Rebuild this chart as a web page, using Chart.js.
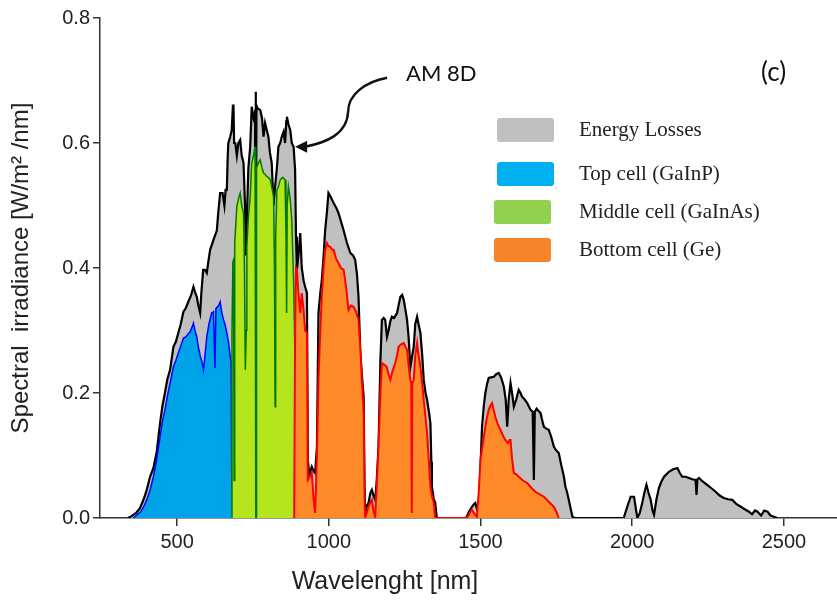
<!DOCTYPE html>
<html><head><meta charset="utf-8">
<script src="https://cdn.jsdelivr.net/npm/chart.js@4.4.1/dist/chart.umd.min.js"></script>
<style>
html,body{margin:0;padding:0;background:#fff;}
#wrap{position:relative;width:837px;height:603px;overflow:hidden;}
canvas{position:absolute;left:0;top:0;}
.lg-box{position:absolute;width:57px;height:24px;border-radius:3px;}
.lg-text{position:absolute;left:579px;font-family:"Liberation Serif","Times New Roman",serif;font-size:21px;color:#222;white-space:nowrap;line-height:24px;}
.note{position:absolute;font-family:Lato,"Open Sans",sans-serif;color:#111;white-space:nowrap;line-height:1;}
#xtitle{position:absolute;left:235px;width:300px;top:565px;text-align:center;font-family:"Liberation Sans",Arial,sans-serif;font-size:25px;line-height:30px;color:#222;white-space:nowrap;}
</style></head>
<body><div id="wrap"><canvas id="c" width="837" height="603"></canvas>
<div id="legend"></div>
<div class="note" style="left:406px;top:62px;font-size:22px">AM 8D</div>
<div class="note" style="left:761px;top:58px;font-size:26px">(c)</div>
<div id="xtitle"></div>
</div>
<script>
// ---- data (wavelength nm, irradiance W/m2/nm) ----
const am8dSpectrum = [[338,0],[350,0.003],[365,0.008],[378,0.016],[390,0.03],[400,0.045],[411,0.066],[422,0.08],[433,0.106],[444,0.152],[452,0.18],[460,0.2],[468,0.222],[477,0.237],[488,0.274],[496,0.282],[504,0.296],[512,0.31],[521,0.33],[529,0.336],[537,0.346],[546,0.356],[554,0.37],[560,0.36],[565,0.354],[570,0.34],[576,0.328],[580,0.36],[586,0.397],[592,0.397],[598,0.392],[603,0.41],[609,0.429],[620,0.445],[631,0.46],[636,0.49],[642,0.52],[650,0.52],[656,0.5],[660,0.525],[664,0.525],[667,0.58],[669,0.6],[675,0.61],[680,0.62],[684,0.66],[686,0.66],[688,0.6],[692,0.6],[697,0.58],[702,0.6],[708,0.605],[713,0.58],[719,0.568],[724,0.5],[727,0.42],[730,0.48],[735,0.56],[741,0.594],[746,0.658],[752,0.64],[757,0.65],[759,0.682],[760,0.17],[761.5,0.66],[766,0.655],[774,0.653],[780,0.64],[785,0.61],[790,0.632],[796,0.62],[801,0.61],[806,0.585],[812,0.568],[818,0.5],[823,0.53],[829,0.56],[834,0.594],[840,0.6],[845,0.61],[851,0.618],[856,0.6],[860,0.635],[862,0.642],[867,0.63],[873,0.621],[878,0.6],[884,0.594],[889,0.557],[892,0.45],[895,0.397],[900,0.42],[906,0.456],[911,0.4],[917,0.38],[922,0.37],[928,0.36],[931,0.093],[936,0.07],[944,0.082],[950,0.075],[955,0.072],[961,0.114],[966,0.328],[972,0.36],[977,0.38],[983,0.42],[988,0.46],[994,0.49],[999,0.52],[1005,0.515],[1010,0.51],[1016,0.504],[1024,0.497],[1032,0.488],[1040,0.475],[1049,0.46],[1060,0.44],[1071,0.424],[1080,0.42],[1087,0.413],[1093,0.39],[1098,0.354],[1104,0.264],[1109,0.23],[1115,0.194],[1118,0.05],[1120,0.008],[1126,0.02],[1131,0.024],[1137,0.04],[1142,0.045],[1148,0.035],[1153,0.029],[1158,0.06],[1164,0.114],[1170,0.25],[1175,0.317],[1181,0.32],[1186,0.317],[1192,0.29],[1197,0.3],[1203,0.315],[1208,0.322],[1215,0.32],[1225,0.328],[1230,0.34],[1236,0.354],[1242,0.357],[1247,0.349],[1252,0.335],[1258,0.317],[1263,0.29],[1269,0.242],[1275,0.26],[1280,0.274],[1285,0.31],[1291,0.322],[1296,0.31],[1302,0.296],[1308,0.26],[1313,0.221],[1319,0.2],[1324,0.189],[1330,0.17],[1335,0.152],[1338,0.09],[1340,0.05],[1346,0.03],[1351,0.024],[1356,0],[1450,0],[1455,0.002],[1462,0.01],[1472,0.018],[1478,0.022],[1483,0.024],[1488,0.015],[1494,0.008],[1500,0.08],[1505,0.146],[1511,0.18],[1516,0.2],[1522,0.215],[1527,0.224],[1535,0.225],[1544,0.226],[1552,0.23],[1560,0.232],[1568,0.225],[1577,0.21],[1583,0.19],[1588,0.146],[1593,0.19],[1599,0.216],[1604,0.2],[1610,0.178],[1618,0.19],[1626,0.205],[1632,0.2],[1637,0.194],[1645,0.19],[1654,0.184],[1660,0.178],[1665,0.173],[1672,0.17],[1676,0.061],[1679,0.17],[1685,0.175],[1690,0.172],[1698,0.168],[1704,0.155],[1709,0.146],[1717,0.143],[1725,0.141],[1733,0.13],[1742,0.114],[1750,0.108],[1758,0.104],[1766,0.085],[1775,0.066],[1780,0.05],[1786,0.04],[1795,0.02],[1803,0.002],[1810,0],[1972,0],[1985,0.02],[1995,0.034],[2006,0.034],[2012,0.015],[2017,0],[2025,0.008],[2033,0.024],[2040,0.04],[2047,0.053],[2054,0.04],[2061,0.029],[2067,0.012],[2072,0.005],[2080,0.03],[2088,0.048],[2096,0.058],[2105,0.066],[2113,0.07],[2121,0.074],[2135,0.078],[2149,0.08],[2157,0.072],[2165,0.066],[2176,0.066],[2187,0.064],[2198,0.062],[2209,0.061],[2212,0.037],[2215,0.062],[2220,0.064],[2233,0.058],[2247,0.053],[2260,0.048],[2275,0.042],[2288,0.036],[2302,0.032],[2316,0.03],[2330,0.029],[2344,0.022],[2358,0.018],[2371,0.014],[2385,0.01],[2395,0.006],[2405,0.012],[2413,0.01],[2425,0.004],[2435,0.012],[2446,0.01],[2456,0.004],[2467,0.002],[2478,0]];

const topCellGaInP = [[355,0],[361,0.002],[370,0.006],[380,0.01],[390,0.018],[400,0.029],[411,0.045],[422,0.066],[433,0.095],[444,0.13],[452,0.155],[460,0.173],[468,0.195],[477,0.216],[488,0.242],[496,0.252],[504,0.264],[512,0.275],[521,0.288],[530,0.29],[537,0.295],[543,0.298],[549,0.305],[554,0.312],[559,0.3],[565,0.29],[570,0.274],[576,0.26],[582,0.25],[587,0.237],[592,0.26],[598,0.29],[605,0.31],[614,0.328],[620,0.33],[625,0.24],[628,0.335],[637,0.34],[642,0.346],[647,0.33],[653,0.317],[658,0.31],[664,0.296],[670,0.28],[675,0.258],[678,0.25],[680,0.2],[681,0.05],[686,0.04],[690,0.02],[695,0]];

const middleCellGaInAs = [[680,0],[681,0.3],[684,0.41],[686,0.413],[688,0.06],[690,0.44],[697,0.498],[702,0.51],[708,0.52],[713,0.5],[719,0.488],[722,0.4],[725,0.237],[728,0.3],[730,0.434],[735,0.48],[741,0.514],[746,0.568],[752,0.58],[757,0.594],[759,0.58],[760,0],[761,0],[762,0.56],[768,0.568],[774,0.573],[780,0.56],[785,0.552],[790,0.55],[796,0.546],[801,0.545],[807,0.541],[812,0.53],[818,0.514],[821,0.4],[823,0.178],[825,0.45],[829,0.525],[834,0.53],[840,0.541],[848,0.545],[856,0.541],[859,0.45],[861,0.328],[863,0.5],[867,0.53],[873,0.51],[878,0.477],[884,0.38],[889,0.248],[895,0.088],[900,0.04],[906,0.018],[912,0.008],[917,0]];

const bottomCellGe = [[886,0],[889,0.3],[892,0.4],[895,0.397],[900,0.36],[906,0.328],[911,0.36],[917,0.333],[922,0.3],[928,0.296],[931,0.061],[936,0.065],[944,0.072],[950,0.03],[955,0.008],[961,0.1],[966,0.221],[972,0.3],[977,0.354],[983,0.4],[988,0.429],[994,0.44],[999,0.435],[1005,0.434],[1010,0.43],[1016,0.429],[1024,0.415],[1032,0.408],[1040,0.4],[1049,0.397],[1057,0.37],[1065,0.333],[1073,0.34],[1082,0.338],[1090,0.33],[1098,0.317],[1104,0.27],[1109,0.221],[1115,0.168],[1118,0.03],[1120,0],[1126,0.01],[1131,0.018],[1137,0.025],[1142,0.029],[1148,0.01],[1153,0.002],[1158,0.05],[1164,0.114],[1170,0.2],[1175,0.248],[1183,0.245],[1191,0.242],[1197,0.23],[1203,0.221],[1210,0.235],[1219,0.248],[1225,0.26],[1230,0.274],[1238,0.278],[1247,0.28],[1252,0.275],[1258,0.269],[1264,0.24],[1269,0.221],[1272,0.215],[1273.5,0.008],[1275,0.215],[1280,0.221],[1285,0.26],[1291,0.28],[1296,0.26],[1302,0.242],[1308,0.215],[1313,0.189],[1319,0.16],[1324,0.136],[1330,0.09],[1335,0.05],[1340,0.035],[1346,0.024],[1351,0],[1455,0],[1462,0.005],[1468,0.012],[1472,0.013],[1478,0.008],[1488,0.002],[1494,0.04],[1500,0.093],[1505,0.11],[1511,0.13],[1519,0.155],[1527,0.173],[1533,0.18],[1538,0.184],[1544,0.172],[1549,0.162],[1557,0.15],[1566,0.141],[1574,0.132],[1582,0.125],[1590,0.12],[1596,0.125],[1599,0.125],[1604,0.095],[1610,0.072],[1618,0.07],[1626,0.066],[1640,0.06],[1654,0.056],[1668,0.048],[1681,0.042],[1695,0.038],[1709,0.034],[1725,0.026],[1742,0.018],[1750,0.01],[1758,0]];

const xTickValues = [500, 1000, 1500, 2000, 2500];
const yTickValues = [0, 0.2, 0.4, 0.6, 0.8];
const legendLabels = ['Energy Losses', 'Top cell (GaInP)', 'Middle cell (GaInAs)', 'Bottom cell (Ge)'];
const legendColors = ['#c0c0c0', '#00b0f0', '#92d050', '#f5842a'];
const annotationLabel = 'AM 8D';
const xAxisTitle = 'Wavelenght [nm]';
const yAxisTitle = 'Spectral  irradiance [W/m\u00B2 /nm]';

const toXY = arr => arr.map(p => ({x: p[0], y: p[1]}));

document.getElementById('xtitle').textContent = xAxisTitle;

// legend (HTML text)
const legendTops = [118, 162, 200, 238];
const legendLefts = [497, 497, 494, 494];
const lg = document.getElementById('legend');
legendLabels.forEach((t, i) => {
  const b = document.createElement('div');
  b.className = 'lg-box';
  b.style.left = legendLefts[i] + 'px';
  b.style.top = legendTops[i] + 'px';
  b.style.background = legendColors[i];
  lg.appendChild(b);
  const s = document.createElement('div');
  s.className = 'lg-text';
  s.style.top = (legendTops[i] - 1) + 'px';
  s.textContent = t;
  lg.appendChild(s);
});

const arrowPlugin = {
  id: 'arrow',
  afterDatasetsDraw(chart) {
    const {ctx, scales: {x, y}} = chart;
    const tx = x.getPixelForValue(889), ty = y.getPixelForValue(0.594);
    ctx.save();
    ctx.strokeStyle = '#111';
    ctx.lineWidth = 2.4;
    ctx.beginPath();
    ctx.moveTo(tx + 92, ty - 69);
    ctx.bezierCurveTo(tx + 70, ty - 65, tx + 53, ty - 52, tx + 53, ty - 35);
    ctx.bezierCurveTo(tx + 52, ty - 12, tx + 30, ty - 4, tx + 10, ty);
    ctx.stroke();
    ctx.fillStyle = '#111';
    ctx.beginPath();
    ctx.moveTo(tx, ty);
    ctx.lineTo(tx + 12, ty - 6);
    ctx.lineTo(tx + 12, ty + 6);
    ctx.closePath();
    ctx.fill();
    ctx.restore();
  }
};

Chart.defaults.font.family = '"Liberation Sans", Arial, sans-serif';

new Chart(document.getElementById('c'), {
  type: 'line',
  data: {
    datasets: [
      {label: legendLabels[1], data: toXY(topCellGaInP), borderColor: '#0000ff', backgroundColor: '#00a2e8', borderWidth: 1.5, fill: 'origin', order: 3},
      {label: legendLabels[2], data: toXY(middleCellGaInAs), borderColor: '#007a00', backgroundColor: '#b5e61d', borderWidth: 1.5, fill: 'origin', order: 2},
      {label: legendLabels[3], data: toXY(bottomCellGe), borderColor: '#ff0000', backgroundColor: '#ff8a2a', borderWidth: 2, fill: 'origin', order: 1},
      {label: annotationLabel, data: toXY(am8dSpectrum), borderColor: '#000000', backgroundColor: '#c0c0c0', borderWidth: 2.2, fill: 'origin', order: 10}
    ]
  },
  options: {
    responsive: false,
    animation: false,
    events: [],
    layout: {padding: {top: 18, right: 0, left: 0, bottom: 0}},
    elements: {point: {radius: 0}, line: {tension: 0}},
    plugins: {legend: {display: false}, tooltip: {enabled: false}},
    scales: {
      x: {
        type: 'linear', min: 246, max: 2675,
        afterBuildTicks: s => { s.ticks = xTickValues.map(v => ({value: v})); },
        afterFit: s => { s.height = 85; },
        ticks: {color: '#222', font: {size: 20}, padding: 4, maxRotation: 0, callback: v => String(v)},
        grid: {drawOnChartArea: false, drawTicks: true, tickLength: 8, color: '#333', lineWidth: 1.5},
        border: {color: '#333', width: 1.5},
        title: {display: false}
      },
      y: {
        type: 'linear', min: 0, max: 0.8,
        afterBuildTicks: s => { s.ticks = yTickValues.map(v => ({value: v})); },
        afterFit: s => { s.width = 100; },
        ticks: {color: '#222', font: {size: 20}, padding: 3, callback: v => v.toFixed(1)},
        grid: {drawOnChartArea: false, drawTicks: true, tickLength: 7, color: '#333', lineWidth: 1.5},
        border: {color: '#333', width: 1.5},
        title: {display: true, text: yAxisTitle, color: '#222', font: {size: 24}, padding: {top: 7, bottom: 4}}
      }
    }
  },
  plugins: [arrowPlugin]
});
</script>
</body></html>
